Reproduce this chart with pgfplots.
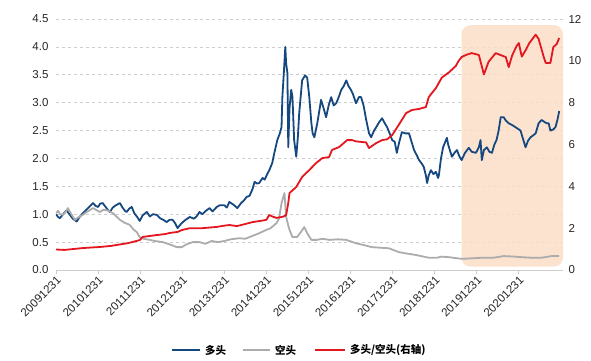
\documentclass[border=0pt]{standalone}
\usepackage{pgfplots}
\usepackage{pgfplotstable}
\pgfplotsset{compat=1.18}
\usepackage{fontspec}
\setmainfont{Liberation Sans}
\newfontfamily\cjk{Noto Sans CJK SC}
\definecolor{cblue}{RGB}{22,72,128}
\definecolor{cgray}{RGB}{172,172,172}
\definecolor{cred}{RGB}{228,22,30}
\definecolor{cshade}{RGB}{250,222,200}
\definecolor{cgrid}{RGB}{205,205,205}

\pgfplotstableread{
x y
2010.00 1.00
2010.05 0.95
2010.09 0.93
2010.17 1.00
2010.25 1.07
2010.32 1.00
2010.40 0.92
2010.49 0.87
2010.56 0.95
2010.64 1.02
2010.72 1.08
2010.80 1.14
2010.88 1.20
2010.94 1.15
2011.00 1.13
2011.05 1.19
2011.11 1.20
2011.17 1.14
2011.23 1.08
2011.28 1.04
2011.35 1.12
2011.42 1.16
2011.52 1.20
2011.58 1.12
2011.64 1.06
2011.68 1.04
2011.74 1.10
2011.80 1.13
2011.86 1.02
2011.93 0.95
2011.99 0.88
2012.06 0.98
2012.16 1.04
2012.23 0.96
2012.30 1.00
2012.39 0.99
2012.47 0.93
2012.55 0.90
2012.63 0.86
2012.70 0.90
2012.77 0.90
2012.83 0.84
2012.89 0.75
2012.94 0.80
2013.00 0.85
2013.08 0.90
2013.18 0.95
2013.28 0.92
2013.35 0.97
2013.41 1.04
2013.48 1.00
2013.56 1.06
2013.65 1.11
2013.72 1.05
2013.82 1.13
2013.89 1.16
2014.00 1.16
2014.06 1.12
2014.12 1.22
2014.20 1.18
2014.25 1.15
2014.31 1.11
2014.40 1.20
2014.47 1.25
2014.53 1.31
2014.60 1.33
2014.67 1.45
2014.72 1.58
2014.78 1.55
2014.83 1.56
2014.91 1.65
2014.96 1.62
2015.02 1.72
2015.07 1.79
2015.14 1.92
2015.19 2.10
2015.26 2.33
2015.32 2.45
2015.36 2.56
2015.38 3.10
2015.42 3.60
2015.45 4.00
2015.47 3.70
2015.50 3.53
2015.52 2.20
2015.55 2.90
2015.59 3.23
2015.62 3.10
2015.66 2.33
2015.71 2.03
2015.75 2.40
2015.78 2.81
2015.85 3.40
2015.92 3.49
2015.97 3.45
2016.02 3.10
2016.07 2.63
2016.10 2.45
2016.14 2.38
2016.21 2.63
2016.30 3.05
2016.36 2.90
2016.42 2.74
2016.48 2.95
2016.54 3.10
2016.60 2.95
2016.66 2.99
2016.72 3.10
2016.78 3.23
2016.84 3.30
2016.90 3.40
2016.95 3.30
2017.01 3.23
2017.06 3.15
2017.13 2.99
2017.20 3.10
2017.25 3.10
2017.31 2.95
2017.37 2.70
2017.44 2.45
2017.49 2.38
2017.56 2.50
2017.61 2.56
2017.68 2.65
2017.75 2.72
2017.80 2.65
2017.87 2.56
2017.93 2.45
2017.99 2.33
2018.05 2.30
2018.10 2.10
2018.16 2.30
2018.22 2.47
2018.30 2.45
2018.39 2.45
2018.45 2.30
2018.51 2.15
2018.58 2.05
2018.63 1.97
2018.70 1.90
2018.74 1.85
2018.79 1.70
2018.82 1.56
2018.86 1.70
2018.91 1.79
2018.97 1.72
2019.03 1.76
2019.08 1.65
2019.10 1.70
2019.15 2.00
2019.20 2.20
2019.29 2.37
2019.32 2.25
2019.36 2.15
2019.41 2.03
2019.47 2.10
2019.53 2.15
2019.58 2.05
2019.64 1.97
2019.72 2.10
2019.81 2.19
2019.88 2.12
2019.98 2.10
2020.05 2.20
2020.09 2.33
2020.12 1.97
2020.17 2.15
2020.24 2.20
2020.30 2.12
2020.36 2.10
2020.42 2.25
2020.47 2.33
2020.52 2.50
2020.57 2.74
2020.64 2.74
2020.69 2.68
2020.76 2.63
2020.84 2.60
2020.92 2.56
2021.00 2.52
2021.04 2.50
2021.10 2.35
2021.16 2.20
2021.22 2.32
2021.28 2.38
2021.35 2.42
2021.40 2.45
2021.47 2.63
2021.54 2.69
2021.60 2.66
2021.66 2.63
2021.71 2.63
2021.75 2.50
2021.82 2.52
2021.87 2.56
2021.92 2.70
2021.96 2.85
}\longdata

\pgfplotstableread{
x y
2010.00 1.02
2010.05 1.06
2010.10 1.00
2010.17 0.99
2010.24 1.05
2010.28 1.11
2010.35 1.02
2010.45 0.90
2010.52 0.94
2010.64 0.99
2010.75 1.05
2010.88 1.11
2010.95 1.08
2011.04 1.04
2011.12 1.08
2011.21 1.07
2011.28 1.05
2011.35 1.02
2011.45 0.95
2011.52 0.90
2011.62 0.85
2011.75 0.81
2011.85 0.72
2011.92 0.68
2011.99 0.59
2012.08 0.56
2012.23 0.54
2012.35 0.52
2012.54 0.50
2012.70 0.46
2012.87 0.41
2012.99 0.41
2013.10 0.46
2013.25 0.50
2013.41 0.50
2013.55 0.47
2013.70 0.52
2013.85 0.50
2014.00 0.52
2014.15 0.55
2014.36 0.57
2014.50 0.56
2014.60 0.59
2014.83 0.66
2015.00 0.72
2015.10 0.75
2015.24 0.84
2015.30 0.92
2015.36 1.20
2015.43 1.38
2015.47 0.95
2015.52 0.80
2015.55 0.72
2015.62 0.59
2015.73 0.59
2015.82 0.68
2015.90 0.77
2015.97 0.66
2016.07 0.54
2016.20 0.54
2016.33 0.56
2016.50 0.54
2016.70 0.55
2016.90 0.54
2017.13 0.48
2017.30 0.45
2017.51 0.41
2017.70 0.40
2017.91 0.39
2018.15 0.32
2018.30 0.30
2018.55 0.27
2018.86 0.22
2019.05 0.22
2019.17 0.24
2019.34 0.23
2019.64 0.20
2019.90 0.21
2020.12 0.22
2020.40 0.22
2020.64 0.25
2020.90 0.24
2021.07 0.23
2021.30 0.22
2021.54 0.22
2021.78 0.25
2021.96 0.25
}\shortdata

\pgfplotstableread{
x y
2010.00 0.98
2010.20 0.96
2010.40 1.00
2010.64 1.05
2011.04 1.10
2011.30 1.15
2011.45 1.20
2011.70 1.28
2011.82 1.34
2011.99 1.43
2012.06 1.58
2012.20 1.62
2012.39 1.67
2012.60 1.72
2012.70 1.77
2012.89 1.82
2012.99 1.91
2013.18 2.00
2013.48 2.00
2013.82 2.06
2014.00 2.12
2014.12 2.15
2014.30 2.10
2014.50 2.20
2014.67 2.29
2014.90 2.36
2015.00 2.40
2015.07 2.63
2015.15 2.55
2015.24 2.49
2015.40 2.55
2015.47 2.63
2015.52 3.20
2015.55 3.68
2015.71 3.97
2015.85 4.45
2016.02 4.78
2016.18 5.11
2016.33 5.35
2016.49 5.40
2016.56 5.74
2016.73 5.88
2016.92 6.21
2017.04 6.21
2017.13 6.15
2017.37 6.10
2017.44 5.83
2017.61 6.07
2017.75 6.21
2017.87 6.25
2017.99 6.45
2018.15 6.95
2018.32 7.50
2018.46 7.65
2018.63 7.70
2018.79 7.79
2018.86 8.27
2019.03 8.70
2019.17 9.20
2019.34 9.45
2019.50 9.75
2019.57 10.00
2019.64 10.18
2019.74 10.28
2019.88 10.37
2020.05 10.28
2020.17 9.35
2020.28 9.95
2020.45 10.37
2020.60 10.25
2020.69 10.18
2020.76 9.70
2020.84 10.25
2020.95 10.72
2021.00 10.85
2021.07 10.20
2021.16 10.50
2021.25 10.85
2021.40 11.25
2021.47 11.05
2021.59 10.20
2021.64 9.90
2021.75 9.90
2021.82 10.66
2021.90 10.80
2021.96 11.09
}\ratiodata

\pgfplotsset{
  common/.style={
    scale only axis, width=507pt, height=251pt,
    xmin=2010, xmax=2022.05,
    tick label style={font=\fontsize{11.5}{13}\selectfont, text=black!85},
    /pgf/number format/assume math mode=true,
  }
}

\begin{document}
\begin{tikzpicture}
\path[use as bounding box] (-56pt,-90pt) rectangle (535pt,270pt);
\begin{axis}[common,
  ymin=0, ymax=4.5, ytick={0,0.5,...,4.5},
  yticklabel style={/pgf/number format/fixed,/pgf/number format/fixed zerofill,/pgf/number format/precision=1},
  axis y line*=left, axis x line*=bottom,
  y axis line style={draw=none},
  x axis line style={draw=cgrid, line width=0.8pt},
  ytick style={draw=none},
  xtick={2010,...,2021},
  xticklabels={20091231,20101231,20111231,20121231,20131231,20141231,20151231,20161231,20171231,20181231,20191231,20201231},
  xticklabel style={rotate=45, anchor=north east, inner sep=1pt},
  xtick style={draw=cgrid, line width=0.8pt},
  tick align=outside, major tick length=4pt,
  ymajorgrids, grid style={dashed, draw=cgrid, line width=0.7pt},
]
\fill[cshade, fill opacity=0.85, rounded corners=9pt] (axis cs:2019.64,0.06) rectangle (axis cs:2022.05,4.39);
\addplot[color=cblue, line width=1.8pt, line join=round] table {\longdata};
\addplot[color=cgray, line width=1.8pt, line join=round] table {\shortdata};
\end{axis}
\begin{axis}[common,
  ymin=0, ymax=12, ytick={0,2,...,12},
  axis y line*=right, axis x line=none,
  y axis line style={draw=none}, ytick style={draw=none},
  yticklabel style={xshift=2pt},
]
\addplot[color=cred, line width=1.8pt, line join=round] table {\ratiodata};
\end{axis}
% legend
\begin{scope}[font=\cjk\bfseries\fontsize{10.5}{12}\selectfont]
\draw[cblue, line width=1.8pt] (116pt,-80pt) -- (144pt,-80pt);
\node[anchor=west, inner sep=0pt] at (149pt,-80pt) {多头};
\draw[cgray, line width=1.8pt] (187pt,-80pt) -- (214pt,-80pt);
\node[anchor=west, inner sep=0pt] at (219pt,-80pt) {空头};
\draw[cred, line width=1.8pt] (259pt,-80pt) -- (289pt,-80pt);
\node[anchor=west, inner sep=0pt] at (294pt,-80pt) {多头/空头(右轴)};
\end{scope}
\end{tikzpicture}
\end{document}
